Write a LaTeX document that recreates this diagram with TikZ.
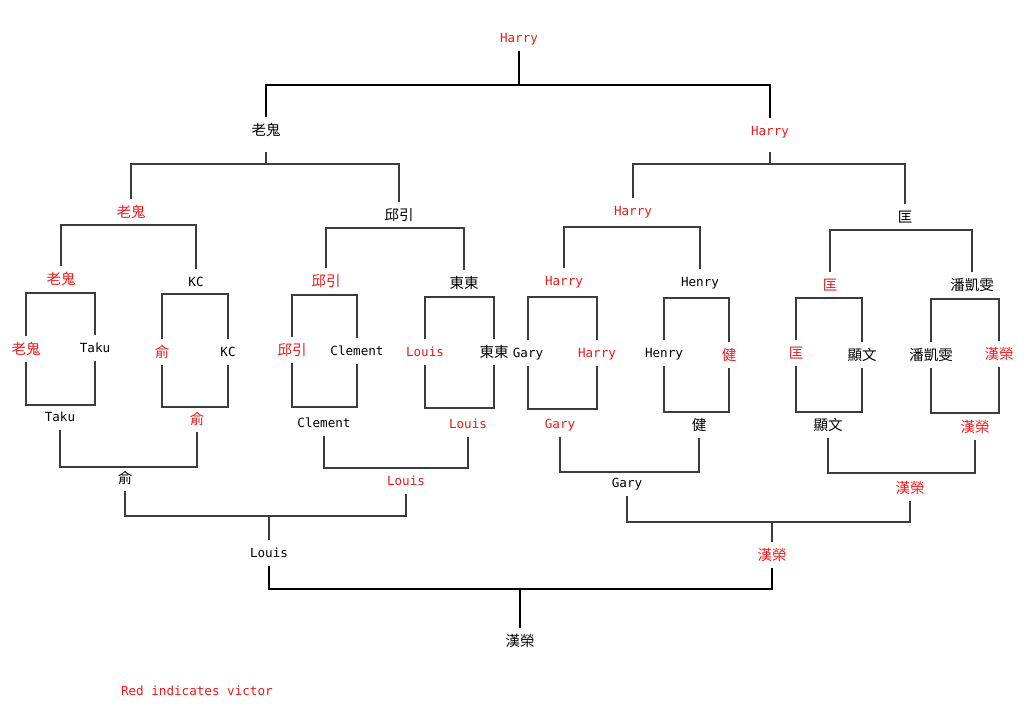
\documentclass[tikz,border=0pt]{standalone}
\usepackage{fontspec}
\setmainfont{DejaVu Sans Mono}
\newfontfamily\cjk{Noto Sans CJK TC}
\definecolor{win}{RGB}{240,25,25}
\definecolor{ln}{RGB}{60,60,60}
\begin{document}
\begin{tikzpicture}[x=1pt,y=-1pt,
  lab/.style={inner sep=0pt,outer sep=0pt,minimum height=26pt,text height=10pt,text depth=1pt,font=\fontsize{12.6}{14}\selectfont},
  ck/.style={inner sep=0pt,outer sep=0pt,minimum height=26pt,text height=11.5pt,text depth=1pt,font=\cjk\fontsize{14.5}{16}\selectfont},
  w/.style={text=win},
  br/.style={draw=ln,line width=1.2pt},
  heavy/.style={draw=black,line width=2pt}]
\useasboundingbox (0,0) rectangle (1024,724);
\fill[white] (0,0) rectangle (1024,724);

% ---------- top half ----------
\node[lab,w] (t0) at (519,38) {Harry};
\node[ck] (a1) at (266,130) {老鬼};
\node[lab,w] (a2) at (770,131) {Harry};
\coordinate (m0) at (519,85);
\draw[heavy] (t0.south) -- (m0);
\draw[heavy] (a1.north) |- (m0) -| (a2.north);

\node[ck,w] (b1) at (131,212) {老鬼};
\node[ck] (b2) at (399,215) {邱引};
\node[lab,w] (b3) at (633,211) {Harry};
\node[ck] (b4) at (905,217) {匡};
\coordinate (m1) at (266,164);
\coordinate (s1) at (266,152);
\coordinate (m2) at (770,164);
\coordinate (s2) at (770,152);
\draw[br] (s1) -- (m1);
\draw[br] (s2) -- (m2);
\draw[br] (b1.north) |- (m1) -| (b2.north);
\draw[br] (b3.north) |- (m2) -| (b4.north);

\node[ck,w] (c1) at (61,279) {老鬼};
\node[lab] (c2) at (196,282) {KC};
\node[ck,w] (c3) at (326,281) {邱引};
\node[ck] (c4) at (464,283) {東東};
\node[lab,w] (c5) at (564,281) {Harry};
\node[lab] (c6) at (700,282) {Henry};
\node[ck,w] (c7) at (830,285) {匡};
\node[ck] (c8) at (972,285) {潘凱雯};
\coordinate (m3) at (131,225);
\coordinate (m4) at (399,228);
\coordinate (m5) at (633,227);
\coordinate (m6) at (905,230);
\draw[br] (c1.north) |- (m3) -| (c2.north);
\draw[br] (c3.north) |- (m4) -| (c4.north);
\draw[br] (c5.north) |- (m5) -| (c6.north);
\draw[br] (c7.north) |- (m6) -| (c8.north);

% ---------- boxes ----------
\node[ck,w] (d1) at (26,349) {老鬼};
\node[lab] (d2) at (95,348) {Taku};
\node[ck,w] (d3) at (162,352) {俞};
\node[lab] (d4) at (228,352) {KC};
\node[ck,w] (d5) at (292,350) {邱引};
\node[lab] (d6) at (357,351) {Clement};
\node[lab,w] (d7) at (425,352) {Louis};
\node[ck] (d8) at (494,352) {東東};
\node[lab] (d9) at (528,353) {Gary};
\node[lab,w] (d10) at (597,353) {Harry};
\node[lab] (d11) at (664,353) {Henry};
\node[ck,w] (d12) at (729,355) {健};
\node[ck,w] (d13) at (796,353) {匡};
\node[ck] (d14) at (862,355) {顯文};
\node[ck] (d15) at (931,355) {潘凱雯};
\node[ck,w] (d16) at (999,354) {漢榮};

\coordinate (kt1) at (60,293);  \coordinate (kb1) at (60,405);
\coordinate (kt2) at (196,294); \coordinate (kb2) at (196,407);
\coordinate (kt3) at (326,295); \coordinate (kb3) at (326,407);
\coordinate (kt4) at (460,297); \coordinate (kb4) at (460,408);
\coordinate (kt5) at (562,297); \coordinate (kb5) at (562,409);
\coordinate (kt6) at (697,298); \coordinate (kb6) at (697,412);
\coordinate (kt7) at (829,298); \coordinate (kb7) at (829,412);
\coordinate (kt8) at (965,299); \coordinate (kb8) at (965,413);
\draw[br] (d1.north) |- (kt1) -| (d2.north);
\draw[br] (d1.south) |- (kb1) -| (d2.south);
\draw[br] (d3.north) |- (kt2) -| (d4.north);
\draw[br] (d3.south) |- (kb2) -| (d4.south);
\draw[br] (d5.north) |- (kt3) -| (d6.north);
\draw[br] (d5.south) |- (kb3) -| (d6.south);
\draw[br] (d7.north) |- (kt4) -| (d8.north);
\draw[br] (d7.south) |- (kb4) -| (d8.south);
\draw[br] (d9.north) |- (kt5) -| (d10.north);
\draw[br] (d9.south) |- (kb5) -| (d10.south);
\draw[br] (d11.north) |- (kt6) -| (d12.north);
\draw[br] (d11.south) |- (kb6) -| (d12.south);
\draw[br] (d13.north) |- (kt7) -| (d14.north);
\draw[br] (d13.south) |- (kb7) -| (d14.south);
\draw[br] (d15.north) |- (kt8) -| (d16.north);
\draw[br] (d15.south) |- (kb8) -| (d16.south);

% ---------- bottom half ----------
\node[lab] (e1) at (60,417) {Taku};
\node[ck,w] (e2) at (197,419) {俞};
\node[lab] (e3) at (324,423) {Clement};
\node[lab,w] (e4) at (468,424) {Louis};
\node[lab,w] (e5) at (560,424) {Gary};
\node[ck] (e6) at (699,425) {健};
\node[ck] (e7) at (828,425) {顯文};
\node[ck,w] (e8) at (975,427) {漢榮};

\node[ck] (f1) at (125,478) {俞};
\node[lab,w] (f2) at (406,481) {Louis};
\node[lab] (f3) at (627,483) {Gary};
\node[ck,w] (f4) at (910,488) {漢榮};
\coordinate (n1) at (125,467);
\coordinate (n2) at (406,468);
\coordinate (n3) at (627,472);
\coordinate (n4) at (910,473);
\draw[br] (e1.south) |- (n1) -| (e2.south);
\draw[br] (e3.south) |- (n2) -| (e4.south);
\draw[br] (e5.south) |- (n3) -| (e6.south);
\draw[br] (e7.south) |- (n4) -| (e8.south);

\node[lab] (g1) at (269,553) {Louis};
\node[ck,w] (g2) at (772,555) {漢榮};
\coordinate (n5) at (269,516);
\coordinate (n6) at (772,522);
\draw[br] (f1.south) |- (n5) -| (f2.south);
\draw[br] (f3.south) |- (n6) -| (f4.south);
\draw[br] (n5) -- (g1.north);
\draw[br] (n6) -- (g2.north);

\node[ck] (h) at (520,641) {漢榮};
\coordinate (n7) at (520,589);
\draw[heavy] (g1.south) |- (n7) -| (g2.south);
\draw[heavy] (n7) -- (h.north);

\node[lab,w,anchor=west] (leg) at (121,691) {Red indicates victor};
\end{tikzpicture}
\end{document}
